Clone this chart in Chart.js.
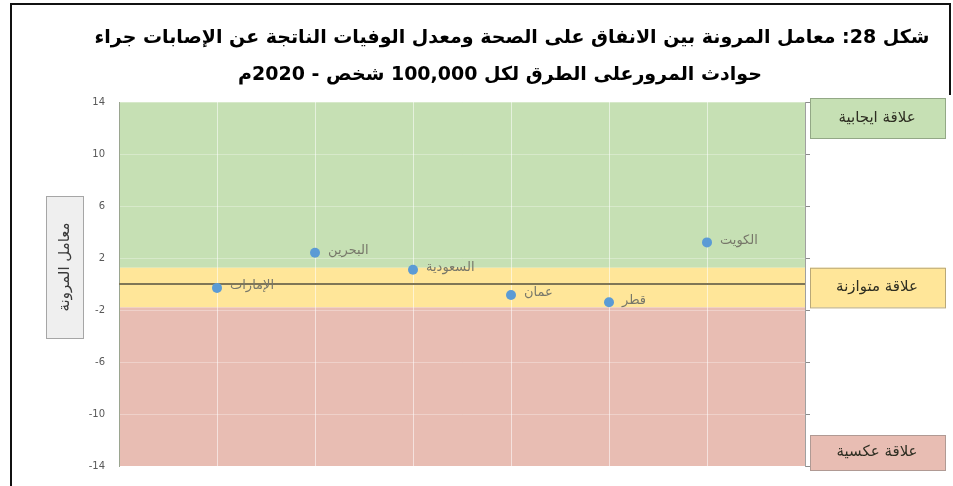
<!DOCTYPE html>
<html><head><meta charset="utf-8">
<script src="https://cdn.jsdelivr.net/npm/chart.js@4/dist/chart.umd.min.js"></script>
<style>html,body{margin:0;padding:0;background:#fff}#wrap{position:relative;width:953px;height:486px}</style>
</head><body><div id="wrap"><canvas id="c"></canvas></div>
<script>
const countries = ['الإمارات','البحرين','السعودية','عمان','قطر','الكويت'];
const positions = [1, 2, 3, 4, 5, 6];
const elasticity = [-0.3, 2.4, 1.1, -0.85, -1.4, 3.2];
const yTickValues = [-14, -10, -6, -2, 2, 6, 10, 14];
const bandEdges = [14, 1.25, -1.8, -14];
const bandNames = ['علاقة ايجابية', 'علاقة متوازنة', 'علاقة عكسية'];
const bandColors = ['#c6e0b4', '#ffe699', '#e8bdb3'];
const titleLines = ['شكل 28: معامل المرونة بين الانفاق على الصحة ومعدل الوفيات الناتجة عن الإصابات جراء',
                    'حوادث المرورعلى الطرق لكل 100,000 شخص - 2020م'];
const yTitle = 'معامل المرونة';

const FONT = '"DejaVu Sans", sans-serif';

const bandsPlugin = {
  id: 'bands',
  beforeDraw(chart) {
    const {ctx, chartArea: a, scales: {y}} = chart;
    ctx.save();
    for (let i = 0; i < bandColors.length; i++) {
      const t = y.getPixelForValue(bandEdges[i]);
      const b = y.getPixelForValue(bandEdges[i + 1]);
      ctx.fillStyle = bandColors[i];
      ctx.fillRect(a.left, t, a.right - a.left, b - t);
    }
    ctx.restore();
  }
};

const labelsPlugin = {
  id: 'pointLabels',
  afterDatasetsDraw(chart) {
    const {ctx} = chart;
    const meta = chart.getDatasetMeta(1);
    ctx.save();
    ctx.font = '13px ' + FONT;
    ctx.fillStyle = '#77776a';
    ctx.textBaseline = 'middle';
    ctx.textAlign = 'left';
    ctx.direction = 'rtl';
    meta.data.forEach((pt, i) => {
      ctx.fillText(countries[i], pt.x + 13, pt.y - 2);
    });
    ctx.restore();
  }
};

const decorPlugin = {
  id: 'decor',
  afterDraw(chart) {
    const {ctx, chartArea: a, scales: {y}} = chart;
    ctx.save();
    ctx.direction = 'rtl';
    // title
    ctx.fillStyle = '#000';
    ctx.textAlign = 'center';
    ctx.textBaseline = 'middle';
    let size = 24;
    ctx.font = 'bold ' + size + 'px ' + FONT;
    while (ctx.measureText(titleLines[0]).width > 835 && size > 10) {
      size -= 0.5;
      ctx.font = 'bold ' + size + 'px ' + FONT;
    }
    ctx.fillText(titleLines[0], 512, 38);
    ctx.fillText(titleLines[1], 500, 75);

    // y title box
    ctx.fillStyle = '#efefef';
    ctx.fillRect(46, 196, 37, 142);
    ctx.strokeStyle = '#a6a6a6';
    ctx.lineWidth = 1;
    ctx.strokeRect(46.5, 196.5, 37, 142);
    ctx.save();
    ctx.translate(65, 267);
    ctx.rotate(-Math.PI / 2);
    ctx.fillStyle = '#3a3a3a';
    ctx.font = '15px ' + FONT;
    ctx.fillText(yTitle, 0, 0);
    ctx.restore();

    // right band label boxes
    const boxes = [
      [a.top - 4, 40],
      [y.getPixelForValue(bandEdges[1]), y.getPixelForValue(bandEdges[2]) - y.getPixelForValue(bandEdges[1])],
      [a.bottom - 31, 35]
    ];
    const borders = ['#93a886', '#b9a878', '#b09a94'];
    boxes.forEach(([top, h], i) => {
      ctx.fillStyle = bandColors[i];
      ctx.fillRect(810, top, 135, h);
      ctx.strokeStyle = borders[i];
      ctx.strokeRect(810.5, top + 0.5, 135, h);
      ctx.fillStyle = '#2e2e22';
      ctx.font = '15px ' + FONT;
      ctx.fillText(bandNames[i], 877, top + h / 2);
    });

    // page frame
    ctx.strokeStyle = '#111';
    ctx.lineWidth = 2;
    ctx.beginPath();
    ctx.moveTo(11, 486); ctx.lineTo(11, 4); ctx.lineTo(950, 4); ctx.lineTo(950, 95);
    ctx.stroke();
    ctx.restore();
  }
};

new Chart(document.getElementById('c'), {
  type: 'scatter',
  data: {
    datasets: [
      {
        type: 'line',
        data: [{x: 0, y: 0}, {x: 7, y: 0}],
        borderColor: '#7f7656',
        borderWidth: 2,
        pointRadius: 0,
        order: 2
      },
      {
        data: positions.map((p, i) => ({x: p, y: elasticity[i]})),
        backgroundColor: '#5b9bd5',
        borderColor: '#5b9bd5',
        pointRadius: 5,
        borderWidth: 0,
        order: 1
      }
    ]
  },
  options: {
    responsive: true,
    maintainAspectRatio: false,
    animation: false,
    layout: {padding: {top: 102, bottom: 16, left: 0, right: 0}},
    plugins: {legend: {display: false}, tooltip: {enabled: false}, title: {display: false}},
    scales: {
      x: {
        type: 'linear', min: 0, max: 7,
        ticks: {display: false, stepSize: 1},
        grid: {color: 'rgba(255,255,255,0.55)', drawTicks: false},
        border: {display: false},
        afterFit(s) { s.height = 0; }
      },
      y: {
        min: -14, max: 14,
        afterBuildTicks(s) { s.ticks = yTickValues.map(v => ({value: v})); },
        ticks: {font: {size: 10, family: FONT}, color: '#595959', padding: 14},
        grid: {color: 'rgba(255,255,255,0.3)', drawTicks: false},
        border: {display: true, color: '#9aa590', width: 1},
        afterFit(s) { s.width = 119; }
      },
      y2: {
        position: 'right',
        min: -14, max: 14,
        afterBuildTicks(s) { s.ticks = yTickValues.map(v => ({value: v})); },
        ticks: {display: false},
        grid: {drawOnChartArea: false, drawTicks: true, tickLength: 5, color: '#8c8c8c'},
        border: {display: true, color: '#a0a0a0', width: 1},
        afterFit(s) { s.width = 148; }
      }
    }
  },
  plugins: [bandsPlugin, labelsPlugin, decorPlugin]
});
</script>
</body></html>
